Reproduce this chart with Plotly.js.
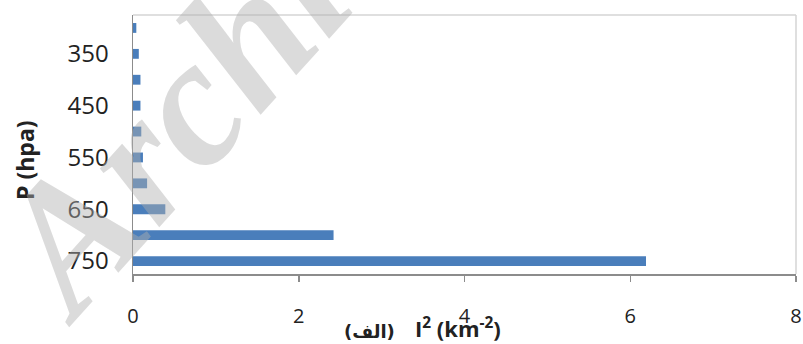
<!DOCTYPE html>
<html>
<head>
<meta charset="utf-8">
<script src="https://cdn.plot.ly/plotly-3.0.1.min.js"></script>
<style>
  html, body { margin: 0; padding: 0; background: #ffffff; }
  #chart { width: 803px; height: 344px; }
</style>
</head>
<body>
<div id="chart"></div>
<script>
// Pressure levels (hPa) and I^2 values (km^-2)
const pressureLevels = [300, 350, 400, 450, 500, 550, 600, 650, 700, 750];
const i2Values = [0.04, 0.07, 0.09, 0.09, 0.10, 0.12, 0.17, 0.39, 2.42, 6.19];

// Axis ticks
const pressureTicks = [350, 450, 550, 650, 750];
const pressureTickLabels = ['350', '450', '550', '650', '750'];
const i2Ticks = [0, 2, 4, 6, 8];

const barTrace = {
  type: 'bar',
  orientation: 'h',
  y: pressureLevels,
  x: i2Values,
  width: 19,
  marker: { color: '#4a7ebb', line: { width: 0 } },
  hoverinfo: 'x+y'
};

const layout = {
  width: 803,
  height: 344,
  margin: { l: 133, r: 7, t: 15, b: 70, pad: 0 },
  paper_bgcolor: '#ffffff',
  plot_bgcolor: '#ffffff',
  showlegend: false,
  font: { family: 'Open Sans, sans-serif', color: '#222222' },
  xaxis: {
    range: [0, 8],
    tickvals: i2Ticks,
    ticktext: i2Ticks.map(String),
    showgrid: false,
    zeroline: false,
    showline: true,
    linecolor: '#8c8c8c',
    linewidth: 1.5,
    ticks: 'outside',
    ticklen: 6,
    tickcolor: '#8c8c8c',
    tickwidth: 1.5,
    ticklabelstandoff: 17,
    tickfont: { family: 'Open Sans, sans-serif', size: 20, color: '#222222' },
    fixedrange: true
  },
  yaxis: {
    range: [775, 275],
    tickvals: pressureTicks,
    ticktext: pressureTickLabels,
    showgrid: false,
    zeroline: false,
    showline: true,
    linecolor: '#8c8c8c',
    linewidth: 1.5,
    ticks: '',
    ticklabelstandoff: 18,
    tickfont: { family: 'Open Sans, sans-serif', size: 24, color: '#222222' },
    fixedrange: true
  },
  shapes: [
    // plot area frame (top and right edges)
    { type: 'line', xref: 'paper', yref: 'paper', x0: 0, x1: 1, y0: 1, y1: 1,
      line: { color: '#d4d4d4', width: 1.5 } },
    { type: 'line', xref: 'paper', yref: 'paper', x0: 1, x1: 1, y0: 0, y1: 1,
      line: { color: '#d4d4d4', width: 1.5 } }
  ],
  annotations: [
    {
      text: '<b>P (hpa)</b>',
      xref: 'paper', yref: 'paper',
      x: -0.163, y: 0.44,
      xanchor: 'center', yanchor: 'middle',
      textangle: -90,
      showarrow: false,
      font: { family: 'Open Sans, sans-serif', size: 23, color: '#222222' }
    },
    {
      text: '<b>I<sup>2</sup> (km<sup>-2</sup>)</b>',
      xref: 'paper', yref: 'paper',
      x: 0.49, y: -0.205,
      xanchor: 'center', yanchor: 'middle',
      showarrow: false,
      font: { family: 'Open Sans, sans-serif', size: 22, color: '#222222' }
    },
    {
      text: '<b>(الف)</b>',
      xref: 'paper', yref: 'paper',
      x: 0.356, y: -0.222,
      xanchor: 'center', yanchor: 'middle',
      showarrow: false,
      font: { family: 'DejaVu Sans, sans-serif', size: 18, color: '#222222' }
    },
    {
      // diagonal watermark
      text: 'Archive of SID',
      xref: 'paper', yref: 'paper',
      x: 0.41, y: 1.59,
      xanchor: 'center', yanchor: 'middle',
      textangle: -48,
      showarrow: false,
      font: { family: 'Liberation Serif, serif', size: 182, color: 'rgba(175,175,175,0.45)', weight: 'bold', style: 'italic' }
    }
  ]
};

Plotly.newPlot('chart', [barTrace], layout, { staticPlot: true, displayModeBar: false });
</script>
</body>
</html>
